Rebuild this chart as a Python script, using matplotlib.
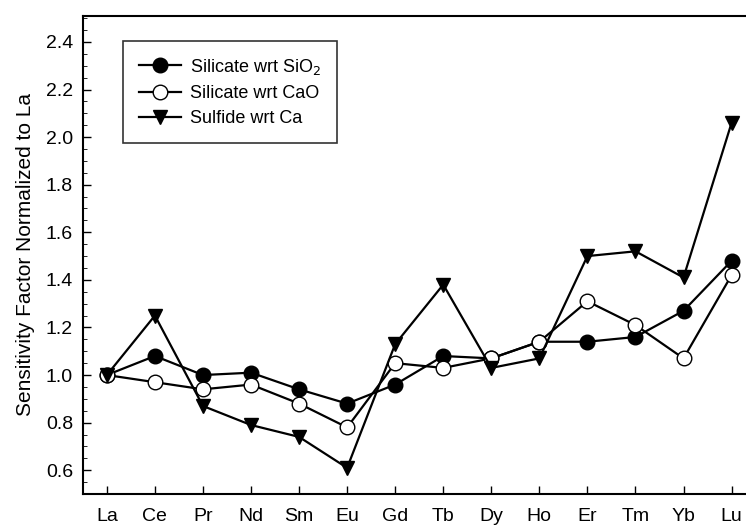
import matplotlib.pyplot as plt
from matplotlib.ticker import MultipleLocator

plt.rcParams['font.family'] = ['Liberation Sans', 'DejaVu Sans']

elements = ['La', 'Ce', 'Pr', 'Nd', 'Sm', 'Eu', 'Gd', 'Tb', 'Dy', 'Ho', 'Er', 'Tm', 'Yb', 'Lu']
sio2 = [1.00, 1.08, 1.00, 1.01, 0.94, 0.88, 0.96, 1.08, 1.07, 1.14, 1.14, 1.16, 1.27, 1.48]
cao = [1.00, 0.97, 0.94, 0.96, 0.88, 0.78, 1.05, 1.03, 1.07, 1.14, 1.31, 1.21, 1.07, 1.42]
sulfide = [1.00, 1.25, 0.87, 0.79, 0.74, 0.61, 1.13, 1.38, 1.03, 1.07, 1.50, 1.52, 1.41, 2.06]

fig = plt.figure(figsize=(7.46, 5.25), dpi=100)
ax = fig.add_axes([0.111, 0.059, 0.889, 0.911])

x = range(len(elements))
ax.plot(x, sio2, 'k-', marker='o', ms=10.5, lw=1.6, mfc='k', label='Silicate wrt SiO$_2$')
ax.plot(x, cao, 'k-', marker='o', ms=10.5, lw=1.6, mfc='white', label='Silicate wrt CaO')
ax.plot(x, sulfide, 'k-', marker='v', ms=10.5, lw=1.6, mfc='k', label='Sulfide wrt Ca')

ax.set_xlim(-0.5, 13.3)
ax.set_ylim(0.5, 2.51)
ax.set_xticks(list(x))
ax.set_xticklabels(elements, fontsize=14)
ax.yaxis.set_major_locator(MultipleLocator(0.2))
ax.yaxis.set_minor_locator(MultipleLocator(0.05))
ax.tick_params(direction='in', labelsize=14, width=1, length=6, pad=7)
ax.tick_params(axis='x', pad=10)
ax.tick_params(axis='y', which='minor', direction='in', length=3)
ax.spines['right'].set_visible(False)
for s in ['left', 'bottom', 'top']:
    ax.spines[s].set_linewidth(1.5)

ax.set_ylabel('Sensitivity Factor Normalized to La', fontsize=15, labelpad=8)

leg = ax.legend(loc='upper left', bbox_to_anchor=(0.047, 0.967), fontsize=13,
                frameon=True, fancybox=False, edgecolor='k', handlelength=2.3,
                handletextpad=0.5, labelspacing=0.45, borderpad=0.9)
leg.get_frame().set_linewidth(1.2)

fig.savefig('out.png', dpi=100)
